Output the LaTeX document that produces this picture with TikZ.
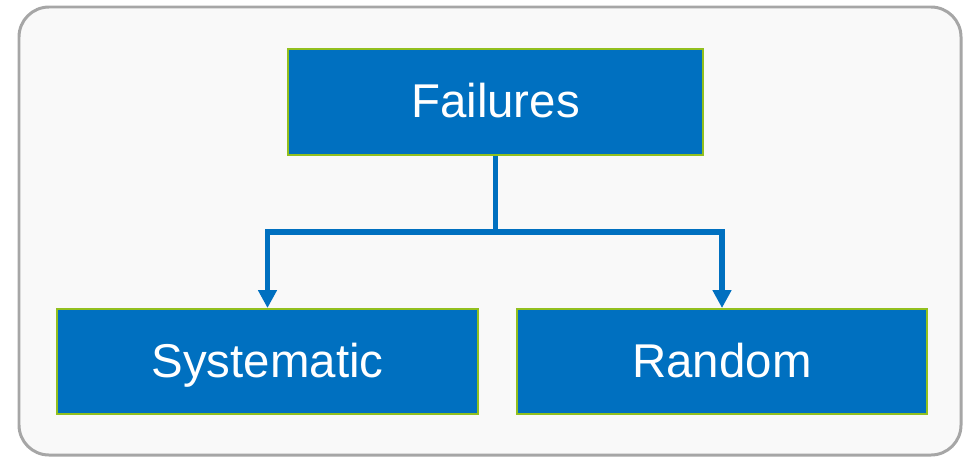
\documentclass[tikz,border=0pt]{standalone}
\usepackage{fontspec}
\setmainfont{Liberation Sans}
\usepackage{tikz}
\usetikzlibrary{arrows.meta,positioning,calc}

\definecolor{caixa}{RGB}{0,112,192}
\definecolor{borda}{RGB}{146,192,31}
\definecolor{moldura}{RGB}{166,166,166}
\definecolor{fundo}{RGB}{249,249,249}

\begin{document}
\begin{tikzpicture}[
      x=0.02cm, y=-0.02cm,
      etapa/.style={draw=borda, line width=1.1pt, fill=caixa, text=white, inner sep=0pt, text height=0.62cm, text depth=0pt, align=center, font=\fontsize{27}{32}\selectfont},
      seta/.style={-{Triangle[width=0.36cm, length=0.36cm]}, line width=2.9pt, caixa}
  ]
      \useasboundingbox (0,0) rectangle (969,457);

      % Moldura de fundo
      \draw[moldura, fill=fundo, line width=1.7pt, rounded corners=0.6cm] (19,7) rectangle (961,455);

      % Caixas
      \node[etapa, minimum width=8.3cm, minimum height=2.12cm] (fail) at (495.5,102) {Failures};
      \node[etapa, minimum width=8.42cm, minimum height=2.1cm] (sys) at (267.5,361.5) {Systematic};
      \node[etapa, minimum width=8.2cm, minimum height=2.1cm] (rand) at (722,361.5) {Random};

      % Setas
      \coordinate (split) at (495.5,232);
      \draw[seta, -] (fail.south) -- (split);
      \draw[seta] (split) -| (sys.north);
      \draw[seta] (split) -| (rand.north);
  \end{tikzpicture}
\end{document}
